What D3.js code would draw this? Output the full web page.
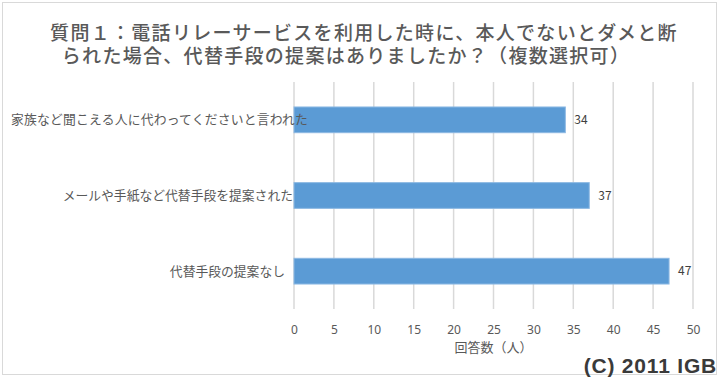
<!DOCTYPE html>
<html lang="ja">
<head>
<meta charset="UTF-8">
<title>質問１</title>
<script src="https://d3js.org/d3.v7.min.js"></script>
<style>
    body { margin: 0; background: #fff; }
    svg text { font-family: "Noto Sans CJK JP", "Noto Sans", sans-serif; }
</style>
</head>
<body>
<div id="chart"></div>
<script>
// data
const categories = [
    "家族など聞こえる人に代わってくださいと言われた",
    "メールや手紙など代替手段を提案された",
    "代替手段の提案なし"
];
const answers = [34, 37, 47];
const xTicks = [0, 5, 10, 15, 20, 25, 30, 35, 40, 45, 50];
const titleLines = [
    "質問１：電話リレーサービスを利用した時に、本人でないとダメと断",
    "られた場合、代替手段の提案はありましたか？（複数選択可）"
];
const axisTitle = "回答数（人）";
const credit = "(C) 2011 IGB";

const width = 720, height = 378;
const margin = { top: 82, right: 27, bottom: 69, left: 294 };

const svg = d3.select("#chart").append("svg")
    .attr("width", width)
    .attr("height", height);

// chart border
svg.append("rect")
    .attr("x", 2.5).attr("y", 2.5)
    .attr("width", 714).attr("height", 372)
    .attr("fill", "#fff")
    .attr("stroke", "#d9d9d9");

const x = d3.scaleLinear()
    .domain([0, 50])
    .range([margin.left, width - margin.right]);

const y = d3.scaleBand()
    .domain(categories)
    .range([margin.top, height - margin.bottom])
    .paddingInner(0.66)
    .paddingOuter(0.33);

// gridlines
svg.append("g")
    .selectAll("line")
    .data(xTicks)
    .join("line")
    .attr("x1", d => x(d)).attr("x2", d => x(d))
    .attr("y1", margin.top).attr("y2", height - margin.bottom)
    .attr("stroke", "#d9d9d9")
    .attr("stroke-width", 1.5);

// bars
svg.append("g")
    .selectAll("rect")
    .data(answers)
    .join("rect")
    .attr("x", x(0))
    .attr("y", (d, i) => y(categories[i]))
    .attr("width", d => x(d) - x(0))
    .attr("height", y.bandwidth())
    .attr("fill", "#5b9bd5")
    .attr("stroke", "#8db9e3")
    .attr("stroke-width", 1);

// value labels
svg.append("g")
    .selectAll("text")
    .data(answers)
    .join("text")
    .attr("x", d => x(d) + 9)
    .attr("y", (d, i) => y(categories[i]) + y.bandwidth() / 2)
    .attr("dy", "0.35em")
    .attr("font-size", 12)
    .attr("fill", "#404040")
    .text(d => d);

// category labels
const labelEnd = [308, 293, 285];
svg.append("g")
    .selectAll("text")
    .data(categories)
    .join("text")
    .attr("x", (d, i) => labelEnd[i])
    .attr("y", d => y(d) + y.bandwidth() / 2)
    .attr("dy", "0.35em")
    .attr("text-anchor", "end")
    .attr("font-size", 12.8)
    .attr("letter-spacing", (d, i) => i === 0 ? 0.2 : 0)
    .attr("fill", "#595959")
    .text(d => d);

// x axis
const xAxis = svg.append("g")
    .attr("transform", `translate(0,${height - margin.bottom})`)
    .call(d3.axisBottom(x).tickValues(xTicks).tickSize(0).tickPadding(16));
xAxis.select(".domain").remove();
xAxis.selectAll("text")
    .attr("font-size", 12)
    .attr("fill", "#595959")
    .style("font-family", "\"Noto Sans\", sans-serif");

svg.append("text")
    .attr("x", (x(0) + x(50)) / 2)
    .attr("y", 352)
    .attr("text-anchor", "middle")
    .attr("font-size", 13)
    .attr("fill", "#595959")
    .text(axisTitle);

// title (two lines in one text element)
const titleX = [364, 346];
svg.append("text")
    .attr("text-anchor", "middle")
    .attr("font-size", 19)
    .attr("letter-spacing", 1.3)
    .attr("font-weight", 500)
    .attr("fill", "#595959")
    .selectAll("tspan")
    .data(titleLines)
    .join("tspan")
    .attr("x", (d, i) => titleX[i])
    .attr("y", (d, i) => 40 + i * 23)
    .text(d => d);

// credit
svg.append("text")
    .attr("x", 717)
    .attr("y", 373)
    .attr("text-anchor", "end")
    .attr("font-size", 21)
    .attr("letter-spacing", 0.8)
    .attr("font-weight", "bold")
    .attr("fill", "#3a3a3a")
    .style("font-family", "\"Liberation Sans\", Arial, sans-serif")
    .text(credit);
</script>
</body>
</html>
